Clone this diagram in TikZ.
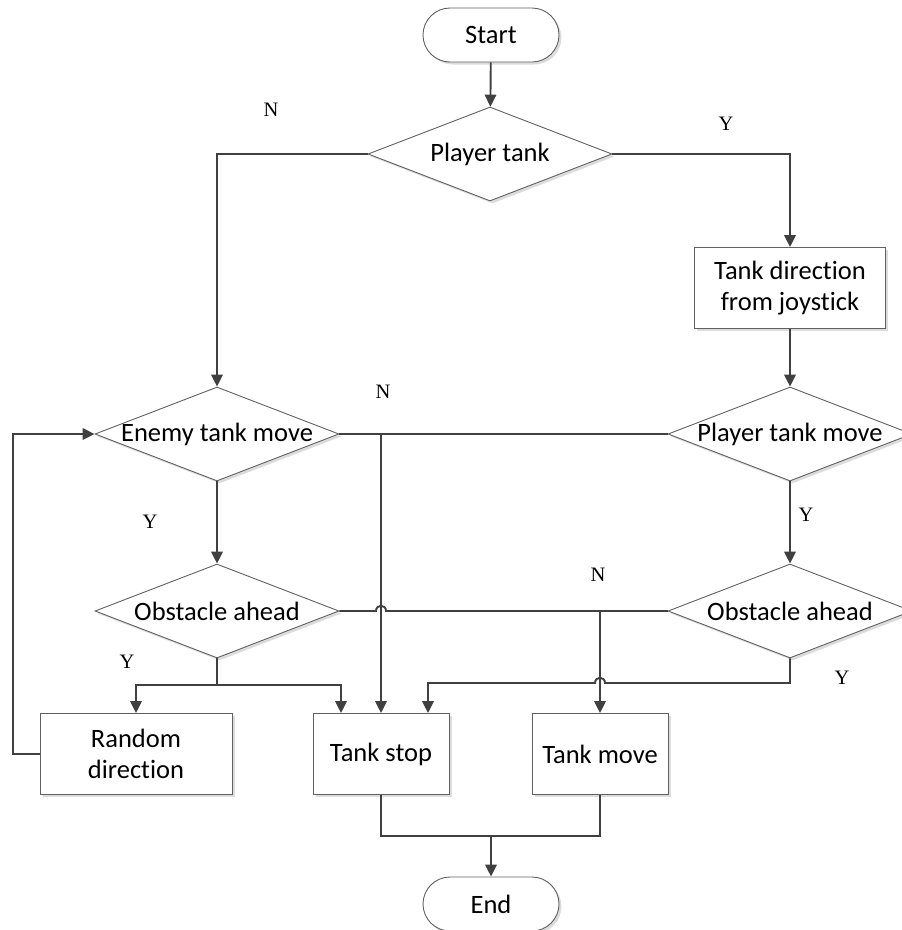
\documentclass[tikz,border=0pt]{standalone}
\usepackage{fontspec}
\setmainfont{Carlito}[Ligatures=NoCommon]
\newfontfamily\labelfont{Liberation Serif}
\usetikzlibrary{shapes.geometric, arrows.meta, shadows}

\begin{document}
\begin{tikzpicture}[x=1pt, y=-1pt,
  font=\fontsize{26.5}{31}\selectfont,
  shapeline/.style={draw=black!62, line width=0.9pt, fill=white,
    drop shadow={shadow xshift=2.5pt, shadow yshift=-2.5pt, fill=black!30, opacity=0.45}},
  terminal/.style={shapeline, rectangle, rounded corners=27pt,
    minimum width=136pt, minimum height=54pt, inner sep=0pt},
  decision/.style={shapeline, diamond, minimum width=244pt, minimum height=94pt, inner sep=0pt},
  process/.style={shapeline, rectangle, minimum height=81pt, inner sep=0pt, align=center},
  flow/.style={draw=black!75, line width=1.9pt, -{Triangle[length=12pt, width=11.5pt]}},
  link/.style={draw=black!75, line width=1.9pt},
  yn/.style={font=\labelfont\fontsize{20.5}{24}\selectfont}
]
\clip (0,0) rectangle (902,930);

% shapes
\node[terminal] (start) at (491,35) {Start};
\node[decision] (pt) at (490,154) {\makebox[0pt]{Player tank}};
\node[process, minimum width=191pt] (dir) at (790,288) {Tank direction\\from joystick};
\node[decision] (etm) at (217,434) {\makebox[0pt]{Enemy tank move}};
\node[decision] (ptm) at (790,434) {\makebox[0pt]{Player tank move}};
\node[decision] (oa1) at (217,611) {\makebox[0pt]{Obstacle ahead}};
\node[decision] (oa2) at (790,611) {\makebox[0pt]{Obstacle ahead}};
\node[process, minimum width=192pt] (rand) at (136,754) {Random\\direction};
\node[process, minimum width=136pt] (stop) at (381,754) {Tank stop};
\node[process, minimum width=136pt] (move) at (600,754) {Tank move};
\node[terminal] (end) at (491,904) {End};

% branch points
\coordinate (nsplit) at (381,434);
\coordinate (ysplit) at (217,685);
\coordinate (msplit) at (600,611);
\coordinate (merge) at (491,836);
\coordinate (lp) at (13,754);

% connectors
\draw[flow] (start) -- (pt);
\draw[flow] (pt.west) -| (etm.north);
\draw[flow] (pt.east) -| (dir.north);
\draw[flow] (dir) -- (ptm);
\draw[flow] (etm) -- (oa1);
\draw[flow] (ptm) -- (oa2);

\draw[flow] (etm.east) -- (nsplit) -- (stop.north);
\draw[link] (ptm.west) -- (nsplit);

\draw[link] (oa1.south) -- (ysplit);
\draw[flow] (ysplit) -| (rand.north);
\draw[flow] (ysplit) -| ([xshift=-40pt]stop.north);

\draw[link] (oa1.east) -- (376,611) .. controls (376,604) and (386,604) .. (386,611) -- (msplit);
\draw[link] (oa2.west) -- (msplit);
\draw[flow] (msplit) -- (move.north);

\draw[flow] (oa2.south) |- (605,683) .. controls (605,676) and (595,676) .. (595,683)
  -- (428,683) -- ([xshift=47pt]stop.north);

\draw[link] (stop.south) |- (move.south |- merge) -- (move.south);
\draw[flow] (merge) -- (end.north);

\draw[flow] (rand.west) -- (lp) |- (etm.west);

% branch labels
\node[yn] (n1) at (271,110) {N};
\node[yn] (y1) at (726,124) {Y};
\node[yn] (n2) at (383,392) {N};
\node[yn] (y2) at (150,522) {Y};
\node[yn] (y3) at (806,515) {Y};
\node[yn] (n3) at (598,575) {N};
\node[yn] (y4) at (127,662) {Y};
\node[yn] (y5) at (842,678) {Y};
\end{tikzpicture}
\end{document}
